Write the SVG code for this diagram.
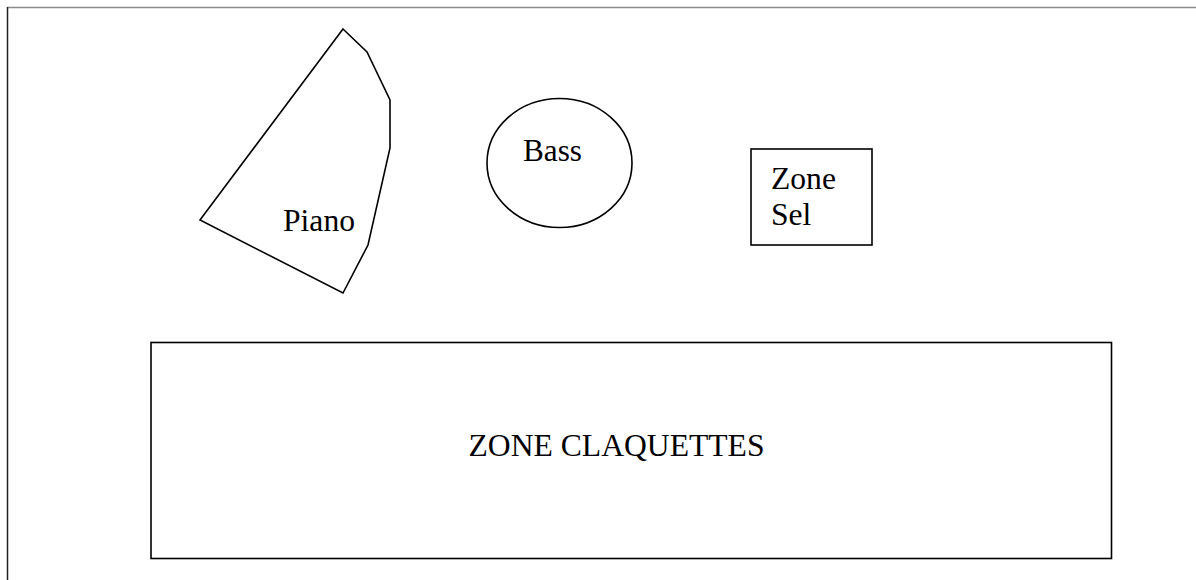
<svg xmlns="http://www.w3.org/2000/svg" width="1196" height="580" viewBox="0 0 1196 580">
<style>
.s{fill:none;stroke:#000;stroke-width:1.6;stroke-linejoin:miter}
.t{font-family:'Liberation Serif','DejaVu Serif',serif;font-size:31.6px;fill:#000}
</style>
<rect width="1196" height="580" fill="#fff"/>
<g id="frame">
<line x1="7" y1="7.5" x2="1196" y2="7.5" stroke="#8c8c8c" stroke-width="1.5"/>
<line x1="7.5" y1="7" x2="7.5" y2="580" stroke="#222" stroke-width="1.5"/>
</g>
<g id="piano">
<polygon class="s" points="343,29 367,52 390,100 390,148 368,245 343,293 200,220"/>
<text class="t" x="283" y="231" textLength="72" lengthAdjust="spacingAndGlyphs">Piano</text>
</g>
<g id="bass">
<ellipse class="s" cx="559.5" cy="163" rx="72.5" ry="64.5"/>
<text class="t" x="523" y="161" textLength="59" lengthAdjust="spacingAndGlyphs">Bass</text>
</g>
<g id="zone-sel">
<rect class="s" x="751" y="149" width="121" height="96"/>
<text class="t" x="771" y="189">Zone</text>
<text class="t" x="771" y="225">Sel</text>
</g>
<g id="zone-claquettes">
<rect class="s" x="151" y="342.5" width="960.5" height="216"/>
<text class="t" x="468.5" y="456" textLength="296" lengthAdjust="spacingAndGlyphs">ZONE CLAQUETTES</text>
</g>
<g id="connectors"/>
</svg>
